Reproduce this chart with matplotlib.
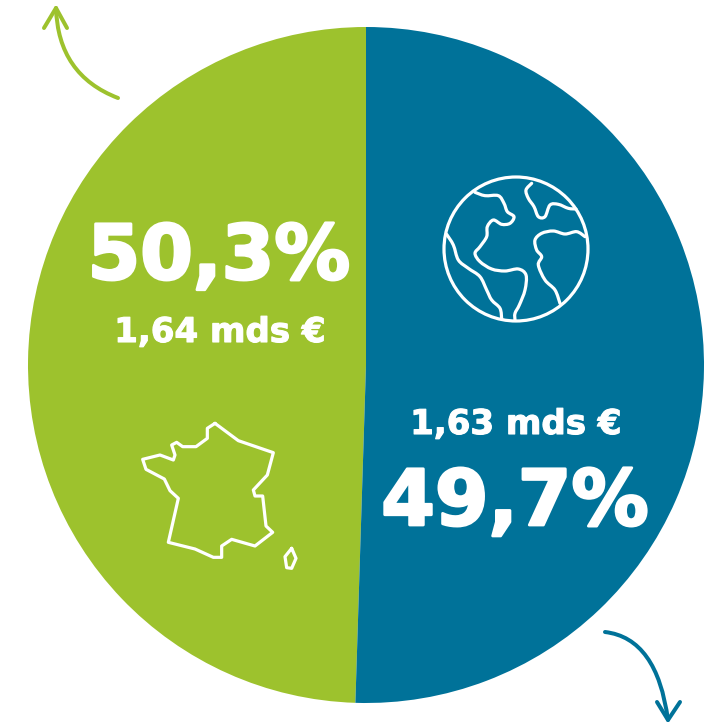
import matplotlib
matplotlib.use("Agg")
import matplotlib.pyplot as plt
import matplotlib.patheffects as pe
import numpy as np
from matplotlib.path import Path
from matplotlib.patches import PathPatch, Circle

W, H = 713, 723
categories = ["France", "Monde"]
drawn_shares = [49.5, 50.5]
share_labels = ["50,3%", "49,7%"]
amount_labels = ["1,64 mds €", "1,63 mds €"]
GREEN = "#9DC22D"
BLUE = "#007299"
FONT = ["DejaVu Sans"]

france = [(285,70),(355,122),(460,158),(442,225),(400,270),(405,288),(428,288),(438,378),(458,397),(405,438),(335,418),(305,438),(305,472),(280,472),(225,447),(145,427),(175,295),(150,272),(133,237),(78,208),(68,178),(120,165),(160,180),(165,165),(155,135),(170,127),(188,140),(228,140),(262,115),(262,85),(285,70)]
corsica = [(515,445),(528,475),(515,505),(500,503),(495,470),(515,445)]
land_a = [(135,82),(165,92),(205,92),(222,115),(232,140),(252,155),(240,175),(215,178),(190,165),(172,185),(170,215),(150,245),(135,265),(150,290),(185,312),(225,318),(265,312),(288,330),(285,375),(268,420),(255,445),(255,465)]
land_b = [(50,208),(70,240),(85,285),(115,310),(150,335),(170,375),(185,405),(210,430),(215,462)]
land_c = [(305,55),(288,75),(295,100),(312,125),(325,155),(345,155),(360,120),(385,118),(415,130),(438,132)]
land_d = [(465,215),(440,200),(405,207),(370,198),(335,205),(315,225),(320,255),(335,275),(325,300),(345,345),(375,375),(390,415)]

fig = plt.figure(figsize=(W/100, H/100), dpi=100)
ax = fig.add_axes([0, 0, 1, 1])
ax.pie(drawn_shares, colors=[GREEN, BLUE], startangle=90, counterclock=True,
       center=(366, H-365), radius=338, wedgeprops=dict(linewidth=0))
ax.set_xlim(0, W); ax.set_ylim(0, H); ax.set_aspect("equal"); ax.axis("off")

def fy(y):
    return H - y

def smooth(pts):
    p = np.array(pts, float)
    p = np.vstack([p[0], p, p[-1]])
    verts = [tuple(p[1])]; codes = [Path.MOVETO]
    for i in range(1, len(p)-2):
        verts += [tuple(p[i] + (p[i+1]-p[i-1])/6), tuple(p[i+1] - (p[i+2]-p[i])/6), tuple(p[i+1])]
        codes += [Path.CURVE4]*3
    return Path(verts, codes)

def zoomed(pts, x0, y0):
    return [(x0 + x/3, fy(y0 + y/3)) for x, y in pts]

def stroke(path, color="white", px=3.2):
    ax.add_patch(PathPatch(path, fc="none", ec=color, lw=px*0.72, capstyle="round", joinstyle="round"))

for outline in (france, corsica):
    stroke(Path(zoomed(outline, 120, 400)))
ax.add_patch(Circle((516, fy(249)), 72, fc="none", ec="white", lw=3.2*0.72))
for land in (land_a, land_b, land_c, land_d):
    stroke(smooth(zoomed(land, 430, 165)))

stroke(Path([(118, fy(98)), (58, fy(75)), (56, fy(8))], [Path.MOVETO, Path.CURVE3, Path.CURVE3]), GREEN, 4)
stroke(Path([(44, fy(28)), (56, fy(8)), (67, fy(28))]), GREEN, 4)
stroke(Path([(605, fy(632)), (657, fy(638)), (668, fy(720))], [Path.MOVETO, Path.CURVE3, Path.CURVE3]), BLUE, 4)
stroke(Path([(657, fy(702)), (668, fy(720)), (680, fy(702))]), BLUE, 4)

def label(x, y, s, size, thick):
    t = ax.text(x, fy(y), s, color="white", fontsize=size, fontweight="bold", family=FONT,
                ha="center", va="baseline")
    t.set_path_effects([pe.withStroke(linewidth=thick, foreground="white")])

label(219, 279, share_labels[0], 54.5, 2.0)
label(220, 342, amount_labels[0], 24.5, 0.8)
label(516, 434, amount_labels[1], 24.5, 0.8)
label(515, 525, share_labels[1], 55.5, 2.0)

fig.savefig("out.png", dpi=100)
